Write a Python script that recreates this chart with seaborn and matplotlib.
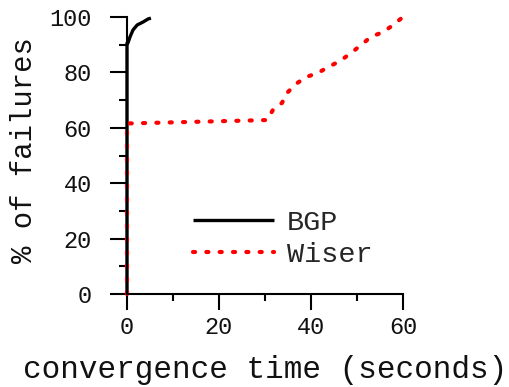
import matplotlib
matplotlib.use("Agg")
import matplotlib.pyplot as plt
from matplotlib.ticker import MultipleLocator
from matplotlib.lines import Line2D
import seaborn as sns
import pandas as pd

# CDF of convergence time after failures
bgp_time = [0, 0, 0.2, 0.65, 1.3, 2.2, 3.5, 4.6, 5.2]
bgp_pct = [0, 90.6, 90.6, 92.8, 95.3, 97.1, 98.2, 99.3, 99.6]

wiser_time = [0, 0, 1.0, 30.5, 31.7, 33.7, 34.8, 36.7, 38.9, 41.5, 43.7, 46.3,
              48.7, 50.9, 53.0, 55.7, 57.6, 60]
wiser_pct = [0, 61.6, 61.6, 62.8, 66.4, 69.0, 72.6, 75.8, 78.3, 79.8, 81.9, 84.1,
             87.0, 89.9, 92.8, 94.6, 96.8, 100]

series_names = ["BGP", "Wiser"]
x_ticks = [0, 20, 40, 60]
y_ticks = [0, 20, 40, 60, 80, 100]

sns.set_theme(style="ticks")
plt.rcParams["font.family"] = ["Liberation Mono", "DejaVu Sans"]
plt.rcParams.update({
    "xtick.major.size": 11.5, "ytick.major.size": 12.2,
    "xtick.minor.size": 5.0, "ytick.minor.size": 5.8,
    "xtick.major.width": 1.5, "ytick.major.width": 1.5,
    "xtick.minor.width": 1.5, "ytick.minor.width": 1.5,
    "xtick.major.pad": 4, "ytick.major.pad": 13,
    "xtick.direction": "out", "ytick.direction": "out",
    "xtick.color": "black", "ytick.color": "black",
    "xtick.labelcolor": "#111111", "ytick.labelcolor": "#111111",
    "xtick.labelsize": 17, "ytick.labelsize": 17,
})

bgp = pd.DataFrame({"time": bgp_time, "pct": bgp_pct})
wiser = pd.DataFrame({"time": wiser_time, "pct": wiser_pct})

fig = plt.figure(figsize=(5.10, 3.87), dpi=100)
ax = fig.add_axes([127 / 510, 1 - 294 / 387, 276 / 510, 277 / 387])

dot_style = (0, (0.5, 2.7))

sns.lineplot(data=bgp, x="time", y="pct", ax=ax, color="black", lw=2.4,
             sort=False, estimator=None, clip_on=False, solid_capstyle="butt")
sns.lineplot(data=wiser, x="time", y="pct", ax=ax, color="#ff0000", lw=3.0,
             sort=False, estimator=None, clip_on=False)
red_line = ax.lines[-1]
red_line.set_linestyle(dot_style)
red_line.set_dash_capstyle("round")

ax.set_xlim(0, 60)
ax.set_ylim(0, 100)
ax.set_xticks(x_ticks)
ax.set_yticks(y_ticks)
ax.xaxis.set_minor_locator(MultipleLocator(10))
ax.yaxis.set_minor_locator(MultipleLocator(10))

for side in ["top", "right"]:
    ax.spines[side].set_visible(False)
for side in ["left", "bottom"]:
    ax.spines[side].set_linewidth(1.5)
    ax.spines[side].set_color("black")

ax.tick_params(axis="y", which="major", length=12.2, pad=13, width=1.5)
ax.tick_params(axis="x", which="major", length=11.5, pad=4, width=1.5)
ax.tick_params(axis="y", which="minor", length=5.8, width=1.5)
ax.tick_params(axis="x", which="minor", length=5.0, width=1.5)

ax.set_xlabel("convergence time (seconds)", fontsize=22.3, color="#111111",
              va="center")
ax.set_ylabel("% of failures", fontsize=20.8, color="#111111", va="center")
ax.xaxis.set_label_coords(0.5, -0.273)
ax.yaxis.set_label_coords(-0.372, 0.52)

handles = [
    Line2D([], [], color="black", lw=2.4, solid_capstyle="butt"),
    Line2D([], [], color="#ff0000", lw=3.0, linestyle=dot_style,
           dash_capstyle="round"),
]
ax.legend(handles, series_names, loc="upper left",
          bbox_to_anchor=(0.239, 0.303), frameon=False, fontsize=20.5,
          handlelength=2.85, handletextpad=0.45, labelspacing=0.22,
          borderpad=0, borderaxespad=0)

fig.savefig("out.png", dpi=100)
